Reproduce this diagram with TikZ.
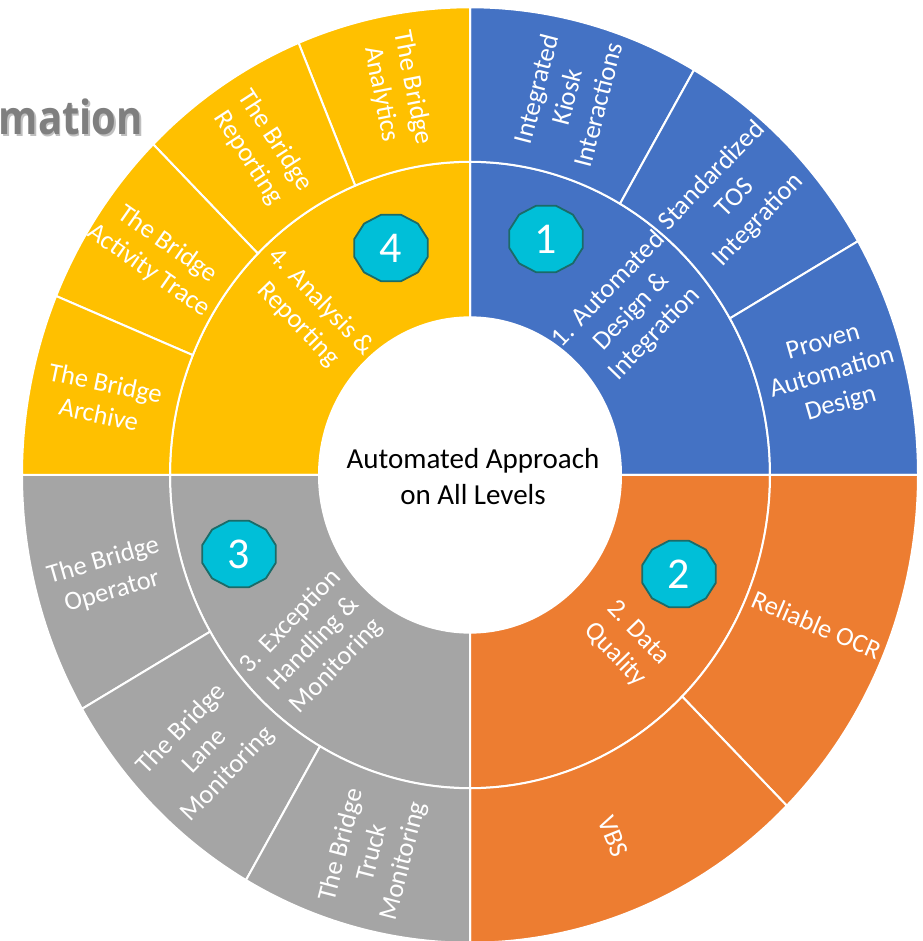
\documentclass[tikz,border=0pt]{standalone}
\usepackage{fontspec}
\setmainfont{Carlito}
\newfontfamily\titlefont{Open Sans}
\definecolor{cblue}{HTML}{4472C4}
\definecolor{corange}{HTML}{ED7D31}
\definecolor{cgray}{HTML}{A5A5A5}
\definecolor{cyellow}{HTML}{FFC000}
\definecolor{ccyan}{HTML}{00BFD8}
\definecolor{cteal}{HTML}{1B6B68}
\definecolor{ctitle}{HTML}{7F7F7F}
\newcommand\sect[5]{%
  \filldraw[seg,fill=#1] (#2:#4) -- (#2:#5) arc[start angle=#2,end angle=#3,radius=#5]
    -- (#3:#4) arc[start angle=#3,end angle=#2,radius=#4] -- cycle;}
\newcommand\badgeat[3]{%
  \begin{scope}[shift={(#1)}]
    \filldraw[badge] (15:38 and 34.5) \foreach \a in {45,75,...,345} {-- (\a:38 and 34.5)} -- cycle;
    \node[num] (#2) at (0,0) {#3};
  \end{scope}}
\begin{document}
\begin{tikzpicture}[x=1pt,y=1pt,
  seg/.style={draw=white,line width=2pt,line join=round},
  lab/.style={text=white,font=\fontsize{26.5}{32}\selectfont,align=center,inner sep=0pt},
  badge/.style={fill=ccyan,draw=cteal,line width=1.8pt,line join=round},
  num/.style={text=white,font=\fontsize{44}{44}\selectfont,inner sep=0pt}]
\useasboundingbox (-470,-466) rectangle (452,475);
% title fragment
\node[anchor=base east,inner sep=0pt,text=black!25] (titleshadow) at (-325.5,338.5)
  {\scalebox{0.85}[1]{\titlefont\bfseries\fontsize{47}{47}\selectfont mation}};
\node[anchor=base east,inner sep=0pt,text=ctitle] (title) at (-327,340)
  {\scalebox{0.85}[1]{\titlefont\bfseries\fontsize{47}{47}\selectfont mation}};
\begin{scope}[yscale=1.044]
  % inner ring
  \sect{cblue}{0}{90}{151}{300}
  \sect{cyellow}{90}{180}{151}{300}
  \sect{cgray}{180}{270}{151}{300}
  \sect{corange}{270}{360}{151}{300}
  % outer ring
  \sect{cblue}{60}{90}{300}{448}
  \sect{cblue}{30}{60}{300}{448}
  \sect{cblue}{0}{30}{300}{448}
  \sect{corange}{-45}{0}{300}{448}
  \sect{corange}{-90}{-45}{300}{448}
  \sect{cgray}{180}{210}{300}{448}
  \sect{cgray}{210}{240}{300}{448}
  \sect{cgray}{240}{270}{300}{448}
  \sect{cyellow}{90}{112.5}{300}{448}
  \sect{cyellow}{112.5}{135}{300}{448}
  \sect{cyellow}{135}{157.5}{300}{448}
  \sect{cyellow}{157.5}{180}{300}{448}
  % outer labels
  \node[lab,rotate=75.5] (kiosk) at (75:375) {Integrated\\Kiosk\\Interactions};
  \node[lab,rotate=46] (tos) at (45:375) {Standardized\\TOS\\Integration};
  \node[lab,rotate=16] (proven) at (15:375) {Proven\\Automation\\Design};
  \node[lab,rotate=-23] (ocr) at (-22.5:375) {Reliable OCR};
  \node[lab,rotate=-68] (vbs) at (-67.5:375) {VBS};
  \node[lab,rotate=16] (operator) at (195:375) {The Bridge\\Operator};
  \node[lab,rotate=46] (lane) at (225:375) {The Bridge\\Lane\\Monitoring};
  \node[lab,rotate=75.5] (truck) at (255:375) {The Bridge\\Truck\\Monitoring};
  \node[lab,rotate=-11.8] (archive) at (168.75:375) {The Bridge\\Archive};
  \node[lab,rotate=-35] (trace) at (146.25:375) {The Bridge\\Activity Trace};
  \node[lab,rotate=-57] (reporting) at (123.75:375) {The Bridge\\Reporting};
  \node[lab,rotate=-79] (analytics) at (101.25:375) {The Bridge\\Analytics};
  % inner labels
  \node[lab,rotate=46] (l1) at (44:225) {1. Automated\\Design \&\\Integration};
  \node[lab,rotate=-46] (l2) at (-46:225) {2. Data\\Quality};
  \node[lab,rotate=46] (l3) at (226:225) {3. Exception\\Handling \&\\Monitoring};
  \node[lab,rotate=-46] (l4) at (136:223) {4. Analysis \&\\Reporting};
\end{scope}
% centre text
\node[align=center,inner sep=0pt,font=\fontsize{29}{36}\selectfont] (centre) at (3,-2)
  {Automated Approach\\on All Levels};
% badges
\badgeat{76,236}{b1}{1}
\badgeat{209,-99}{b2}{2}
\badgeat{-231,-79}{b3}{3}
\badgeat{-79,227}{b4}{4}
\end{tikzpicture}
\end{document}
